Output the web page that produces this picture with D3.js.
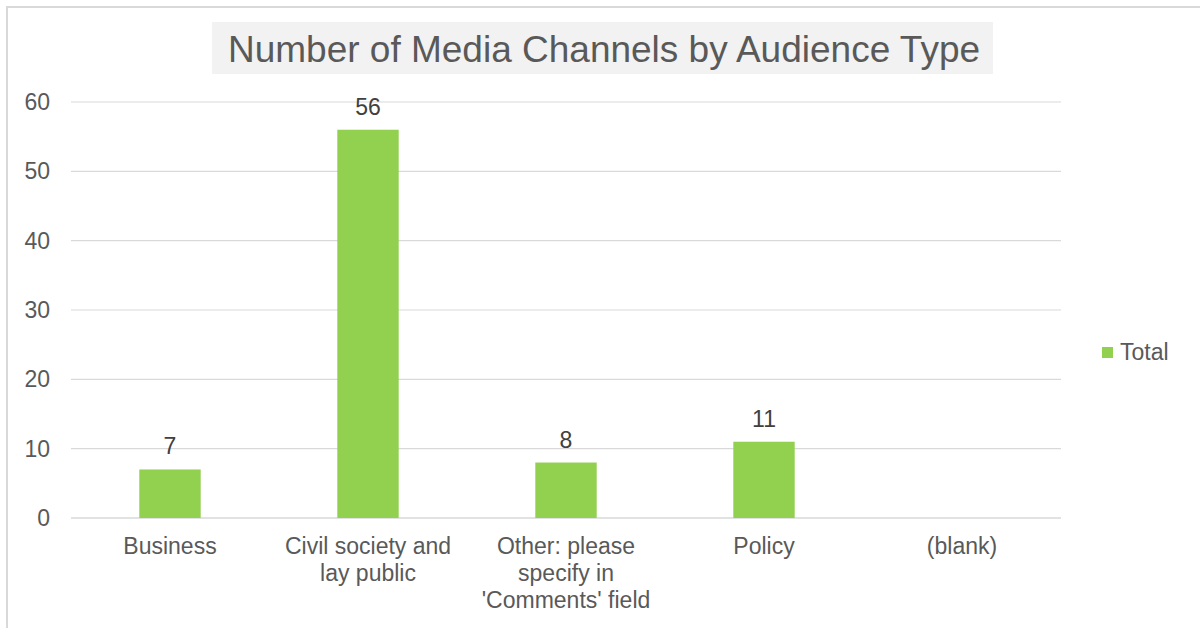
<!DOCTYPE html>
<html>
<head>
<meta charset="utf-8">
<script src="https://cdn.jsdelivr.net/npm/d3@7"></script>
<style>
  body { margin: 0; background: #fff; }
  svg { font-family: "Liberation Sans", Arial, sans-serif; }
</style>
</head>
<body>
<div id="chart"></div>
<script>
var categories = ["Business", "Civil society and lay public", "Other: please specify in 'Comments' field", "Policy", "(blank)"];
var categoryLines = [["Business"], ["Civil society and", "lay public"], ["Other: please", "specify in", "'Comments' field"], ["Policy"], ["(blank)"]];
var totals = [7, 56, 8, 11, null];
var yTicks = [0, 10, 20, 30, 40, 50, 60];
var chartTitle = "Number of Media Channels by Audience Type";
var seriesName = "Total";

var width = 1200, height = 628;
var margin = { top: 102, right: 139, bottom: 110, left: 71 },
    plotWidth = width - margin.left - margin.right,
    plotHeight = height - margin.top - margin.bottom;

var svg = d3.select("#chart").append("svg")
    .attr("width", width)
    .attr("height", height);

// outer frame (only top and left edges visible)
svg.append("path")
    .attr("d", "M7,628 V7 H1200")
    .attr("fill", "none")
    .attr("stroke", "#d9d9d9")
    .attr("stroke-width", 2);

var g = svg.append("g")
    .attr("transform", "translate(" + margin.left + "," + margin.top + ")");

var x = d3.scaleBand().domain(categories).range([0, plotWidth]).paddingInner(0.69).paddingOuter(0.345);
var y = d3.scaleLinear().domain([0, 60]).range([plotHeight, 0]);

// gridlines
g.selectAll(".grid")
    .data(yTicks)
    .enter().append("line")
    .attr("class", "grid")
    .attr("x1", 0)
    .attr("x2", plotWidth)
    .attr("y1", function (d) { return y(d); })
    .attr("y2", function (d) { return y(d); })
    .attr("stroke", "#d9d9d9")
    .attr("stroke-width", function (d) { return d === 0 ? 1.5 : 1.2; });

// y axis labels
var yAxis = d3.axisLeft(y).tickValues(yTicks).tickSize(0).tickPadding(21);
g.append("g")
    .attr("class", "y axis")
    .call(yAxis)
    .call(function (s) { s.select(".domain").remove(); })
    .selectAll("text")
    .attr("fill", "#595959")
    .style("font-size", "23px");

// bars
var data = categories.map(function (c, i) { return { cat: c, value: totals[i] }; });
var barData = data.filter(function (d) { return d.value !== null; });

g.selectAll(".bar")
    .data(barData)
    .enter().append("rect")
    .attr("class", "bar")
    .attr("x", function (d) { return x(d.cat); })
    .attr("width", x.bandwidth())
    .attr("y", function (d) { return y(d.value); })
    .attr("height", function (d) { return plotHeight - y(d.value); })
    .attr("fill", "#92d050");

// data labels
g.selectAll(".label")
    .data(barData)
    .enter().append("text")
    .attr("class", "label")
    .attr("x", function (d) { return x(d.cat) + x.bandwidth() / 2; })
    .attr("y", function (d) { return y(d.value) - 15; })
    .attr("text-anchor", "middle")
    .attr("fill", "#404040")
    .style("font-size", "23px")
    .text(function (d) { return d.value; });

// category labels
var xLabels = g.selectAll(".xlabel")
    .data(categories)
    .enter().append("text")
    .attr("class", "xlabel")
    .attr("x", function (d) { return x(d) + x.bandwidth() / 2; })
    .attr("y", plotHeight + 36)
    .attr("text-anchor", "middle")
    .attr("fill", "#595959")
    .style("font-size", "23px");

xLabels.selectAll("tspan")
    .data(function (d, i) { return categoryLines[i]; })
    .enter().append("tspan")
    .attr("x", function () { return d3.select(this.parentNode).attr("x"); })
    .attr("dy", function (d, i) { return i === 0 ? 0 : 27; })
    .text(function (d) { return d; });

// title
svg.append("rect")
    .attr("x", 212)
    .attr("y", 22)
    .attr("width", 781)
    .attr("height", 52)
    .attr("fill", "#f2f2f2");

svg.append("text")
    .attr("x", 604)
    .attr("y", 62)
    .attr("text-anchor", "middle")
    .attr("fill", "#595959")
    .style("font-size", "37px")
    .text(chartTitle);

// legend
var legend = svg.append("g").attr("transform", "translate(1102,347)");
legend.append("rect")
    .attr("width", 11)
    .attr("height", 11)
    .attr("fill", "#92d050");
legend.append("text")
    .attr("x", 18)
    .attr("y", 13)
    .attr("fill", "#595959")
    .style("font-size", "23px")
    .text(seriesName);
</script>
</body>
</html>
